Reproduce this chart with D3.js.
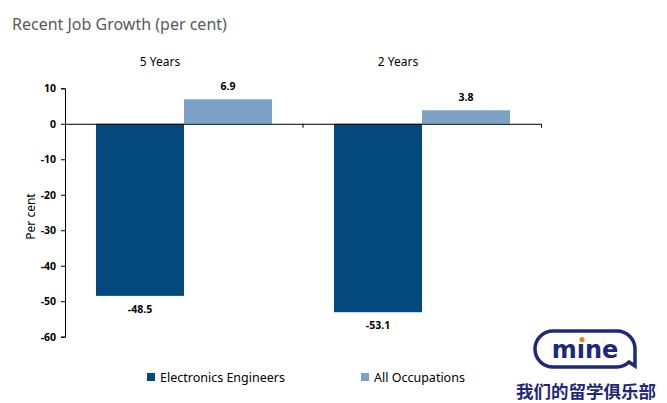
<!DOCTYPE html>
<html><head><meta charset="utf-8">
<script src="https://cdn.jsdelivr.net/npm/d3@7"></script>
<style>body{margin:0;background:#fff}svg{display:block}</style>
</head><body>
<svg id="c" width="667" height="403"></svg>
<script>
const categories = ["5 Years", "2 Years"];
const seriesNames = ["Electronics Engineers", "All Occupations"];
const electronics = [-48.5, -53.1];
const allOcc = [6.9, 3.8];
const yTicks = [10, 0, -10, -20, -30, -40, -50, -60];
const colors = ["#03497e", "#7ca2c6"];

(function () {
const svg = d3.select("#c");
const font = "'Noto Sans', 'Open Sans', sans-serif";
const pLeft = 65, pRight = 541, pTop = 88.3, pBottom = 336.7;

const y = d3.scaleLinear().domain([10, -60]).range([pTop, pBottom]);
const x0 = d3.scaleBand().domain(categories).range([pLeft, pRight]).paddingInner(0).paddingOuter(0);
const x1 = d3.scaleBand().domain(seriesNames).range([31, x0.bandwidth() - 31]).padding(0);

svg.append("text").attr("x", 12).attr("y", 30).attr("font-family", font).attr("font-size", 16)
  .attr("fill", "#595959").text("Recent Job Growth (per cent)");

svg.selectAll(".cat").data(categories).enter().append("text")
  .attr("x", d => x0(d) + x0.bandwidth() / 2 - 24).attr("y", 66)
  .attr("text-anchor", "middle").attr("font-family", font).attr("font-size", 12).attr("fill", "#000")
  .text(d => d);

const data = categories.map((c, i) => ({cat: c, vals: [electronics[i], allOcc[i]]}));
const g = svg.selectAll(".grp").data(data).enter().append("g").attr("transform", d => `translate(${x0(d.cat)},0)`);
g.selectAll("rect").data(d => d.vals.map((v, j) => ({v, s: seriesNames[j], j}))).enter().append("rect")
  .attr("x", d => x1(d.s)).attr("width", x1.bandwidth())
  .attr("y", d => y(Math.max(0, d.v))).attr("height", d => Math.abs(y(d.v) - y(0)))
  .attr("fill", d => colors[d.j]);
g.selectAll(".lbl").data(d => d.vals.map((v, j) => ({v, s: seriesNames[j], j}))).enter().append("text")
  .attr("x", d => x1(d.s) + x1.bandwidth() / 2)
  .attr("y", d => d.v >= 0 ? y(d.v) - 9 : y(d.v) + 17)
  .attr("text-anchor", "middle").attr("font-family", font).attr("font-size", 10.5).attr("font-weight", "bold")
  .attr("fill", "#000").text(d => d.v.toFixed(1));

const yAxis = d3.axisLeft(y).tickValues(yTicks).tickSize(4).tickFormat(d => String(d));
const ya = svg.append("g").attr("transform", `translate(${pLeft},0)`).call(yAxis);
ya.select(".domain").attr("stroke", "#000");
ya.selectAll("line").attr("stroke", "#000");
ya.selectAll("text").attr("font-family", font).attr("font-size", 10.5).attr("font-weight", "bold").attr("fill", "#000").attr("x", -9);

const xa = svg.append("g").attr("transform", `translate(0,${y(0)})`)
  .call(d3.axisBottom(x0).tickSize(4).tickSizeOuter(4).tickFormat(""));
xa.select(".domain").attr("stroke", "#000");
xa.selectAll("line").attr("stroke", "#000");
xa.selectAll(".tick").filter((d, i) => i === 0).remove();
xa.selectAll(".tick line").attr("transform", `translate(${-x0.bandwidth() / 2},0)`);

svg.append("text").attr("transform", `translate(35,${(pTop + pBottom) / 2 + 4}) rotate(-90)`)
  .attr("text-anchor", "middle").attr("font-family", font).attr("font-size", 12).attr("fill", "#000").text("Per cent");

const legX = [147, 361];
seriesNames.forEach((s, i) => {
  svg.append("rect").attr("x", legX[i]).attr("y", 373).attr("width", 8).attr("height", 8).attr("fill", colors[i]);
  svg.append("text").attr("x", legX[i] + 13).attr("y", 382).attr("font-family", font).attr("font-size", 12.5)
    .attr("fill", "#000").text(s);
});

const lg = svg.append("g");
lg.append("path").attr("d", "M553,331 H617 A18,18 0 0 1 635,349 V366 L629,362 A18,18 0 0 1 617,367 H553 A18,18 0 0 1 535,349 A18,18 0 0 1 553,331 Z")
  .attr("fill", "none").attr("stroke", "#20287c").attr("stroke-width", 3.5);
lg.append("text").attr("x", 585).attr("y", 358).attr("text-anchor", "middle").attr("font-family", "'DejaVu Sans', sans-serif")
  .attr("font-weight", "bold").attr("font-size", 24).attr("fill", "#20287c").text("mıne");
lg.append("circle").attr("cx", 582).attr("cy", 339.5).attr("r", 2.6).attr("fill", "#f07a1a");
lg.append("text").attr("x", 586).attr("y", 398).attr("text-anchor", "middle").attr("font-family", "'Noto Sans CJK SC', sans-serif")
  .attr("font-weight", "bold").attr("font-size", 17.5).attr("fill", "#20287c").text("我们的留学俱乐部");
})();
</script>
</body></html>
